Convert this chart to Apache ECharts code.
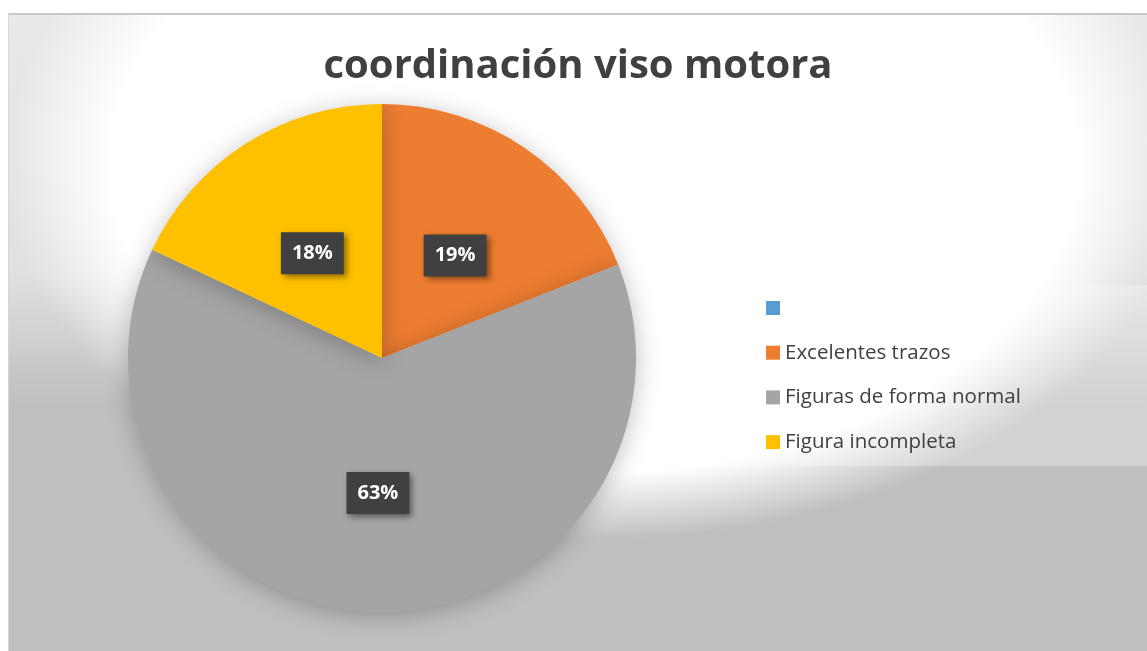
<!DOCTYPE html>
<html>
<head>
<meta charset="utf-8">
<script src="https://cdn.jsdelivr.net/npm/echarts@6/dist/echarts.min.js"></script>
<style>
  html, body { margin: 0; padding: 0; background: #fff; }
  #frame {
    position: absolute; left: 8px; top: 13px; width: 1139px; height: 638px;
    border-top: 2px solid #c8c8c8; border-left: 1px solid #d6d6d6;
    box-sizing: border-box;
    background:
      radial-gradient(ellipse 590px 375px at 585px 150px, rgba(255,255,255,1) 0%, rgba(255,255,255,1) 82%, rgba(255,255,255,0) 100%),
      linear-gradient(to bottom, #e9e9e9 0px, #e0e0e0 260px, #bfbfbf 390px, #bfbfbf 100%);
  }
  #chart { width: 100%; height: 100%; }
</style>
</head>
<body>
<div id="frame"><div id="chart"></div></div>
<script>
const titleText = 'coordinación viso motora';
const categories = [' ', 'Excelentes trazos', 'Figuras de forma normal', 'Figura incompleta'];
const values = [0, 19, 63, 18];
const colors = ['#5B9BD5', '#ED7D31', '#A5A5A5', '#FFC000'];

const fontFamily = '"Open Sans", "Noto Sans", sans-serif';

const pieData = categories.map((name, i) => ({
  name,
  value: values[i],
  itemStyle: { color: colors[i] },
  label: { show: values[i] > 0 },
}));

const myChart = echarts.init(document.getElementById('chart'));
myChart.setOption({
  backgroundColor: 'transparent',
  animation: false,
  title: {
    text: titleText,
    left: 'center',
    top: 27,
    textStyle: { fontFamily, fontSize: 40, fontWeight: 'bold', color: '#404040' },
  },
  graphic: [{
    type: 'rect',
    z: 0,
    shape: { x: 744, y: 270, width: 400, height: 181 },
    style: { fill: 'rgba(255,255,255,0.3)' },
  }],
  legend: {
    orient: 'vertical',
    left: 744,
    top: 270,
    padding: [12, 10, 14, 13],
    itemWidth: 14,
    itemHeight: 14,
    itemGap: 22.7,
    icon: 'rect',
    data: categories,
    textStyle: { fontFamily, fontSize: 20.5, color: '#404040', lineHeight: 22 },
  },
  series: [{
    type: 'pie',
    center: [373, 343],
    radius: 254,
    startAngle: 90,
    clockwise: true,
    percentPrecision: 0,
    stillShowZeroSum: false,
    avoidLabelOverlap: false,
    itemStyle: {
      borderWidth: 0,
      shadowBlur: 25,
      shadowColor: 'rgba(0,0,0,0.25)',
      shadowOffsetY: 4,
    },
    label: {
      position: 'inside',
      formatter: '{d}%',
      offset: [0, 5],
      fontFamily,
      fontSize: 20,
      fontWeight: 'bold',
      color: '#ffffff',
      backgroundColor: '#404040',
      padding: [10, 11, 10, 11],
      lineHeight: 22,
      shadowBlur: 6,
      shadowColor: 'rgba(0,0,0,0.45)',
      shadowOffsetX: 3,
      shadowOffsetY: 3,
    },
    labelLine: { show: false },
    emphasis: { disabled: true },
    data: pieData,
  }],
});
</script>
</body>
</html>
